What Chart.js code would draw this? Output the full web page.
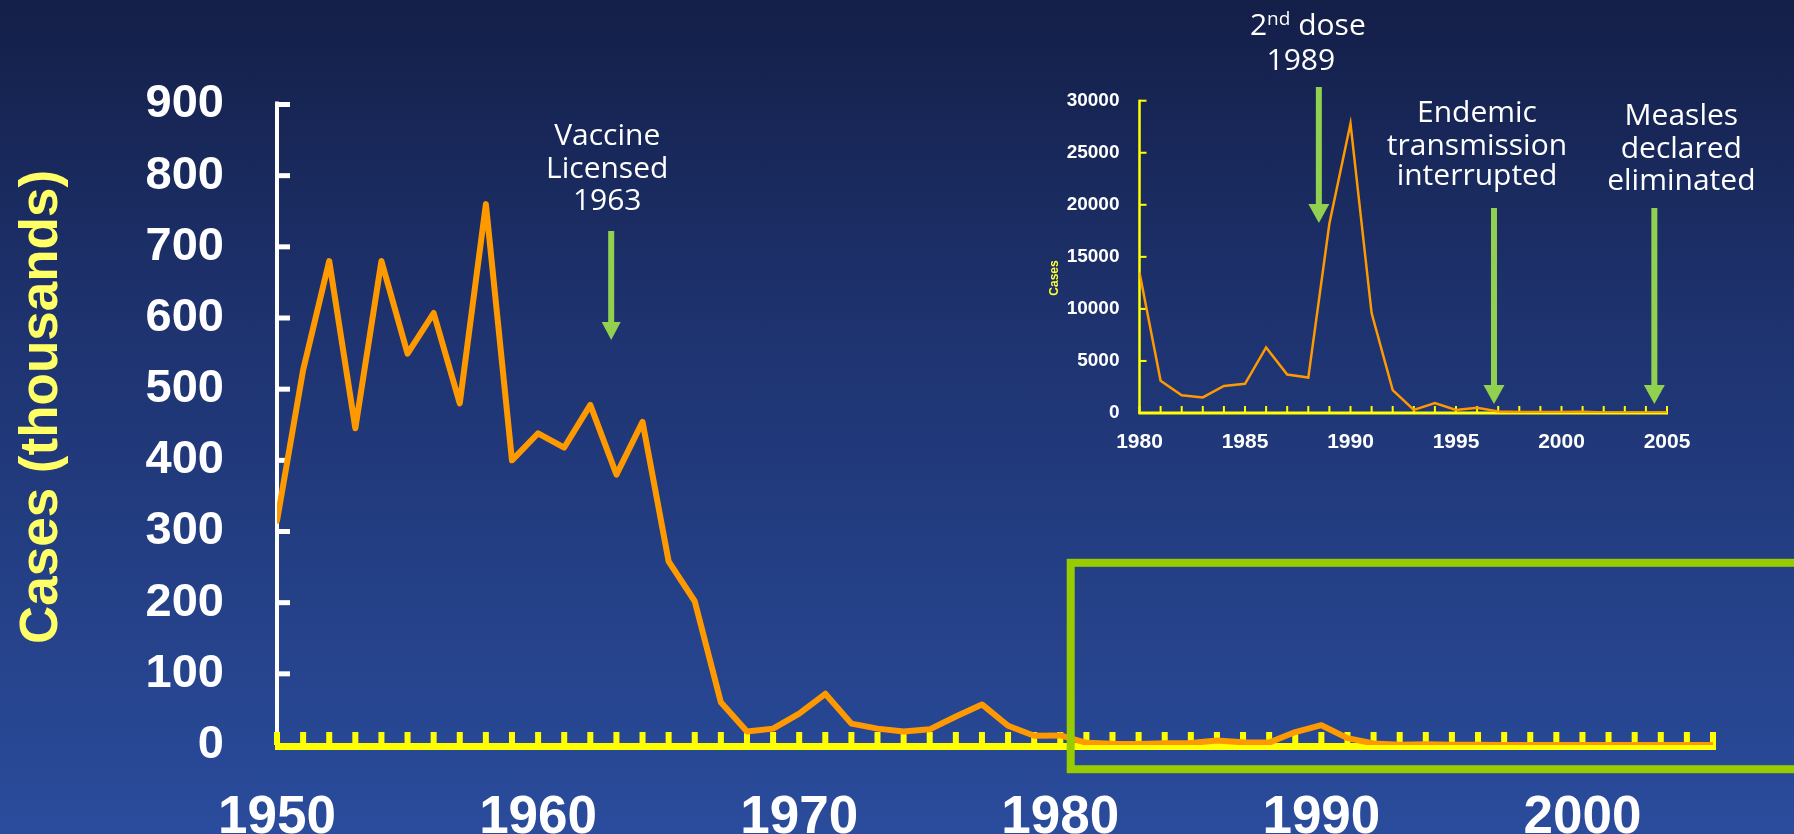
<!DOCTYPE html>
<html>
<head>
<meta charset="utf-8">
<script src="https://cdn.jsdelivr.net/npm/chart.js@4.4.1/dist/chart.umd.min.js"></script>
<style>
  html, body { margin: 0; padding: 0; }
  body {
    width: 1794px; height: 834px; overflow: hidden; position: relative;
    background: linear-gradient(to bottom, #141f48 0%, #1e3370 40%, #2a4c9c 100%);
  }
  canvas { position: absolute; left: 0; top: 0; }
  #inset { pointer-events: none; }
</style>
</head>
<body>
<canvas id="main" width="1794" height="834"></canvas>
<canvas id="inset" width="1794" height="834"></canvas>
<script>
// Measles cases in the US, thousands per year
const years = [];
for (let y = 1950; y <= 2005; y++) years.push(y);

const casesThousands = [
  315, 527, 680, 445, 680, 550, 607, 480, 760, 400,
  438, 418, 478, 380, 454, 258, 202, 60, 19, 23,
  44, 72, 30, 23, 19, 22, 40, 57, 27, 13,
  13.5, 3.1, 1.7, 1.5, 2.6, 2.8, 6.3, 3.7, 3.4, 18.2,
  27.8, 9.6, 2.2, 0.3, 0.96, 0.3, 0.5, 0.14, 0.1, 0.1,
  0.086, 0.116, 0.044, 0.056, 0.037, 0.066
];

const mainTicks = [0, 100, 200, 300, 400, 500, 600, 700, 800, 900];
const mainYearLabels = [1950, 1960, 1970, 1980, 1990, 2000];

const insetStart = 1980;
const insetTicks = [0, 5000, 10000, 15000, 20000, 25000, 30000];
const insetYearLabels = [1980, 1985, 1990, 1995, 2000, 2005];

// events marked with arrows
const vaccineYear = 1962.8;
const secondDoseYear = 1988.5;
const endemicYear = 1996.8;
const eliminatedYear = 2004.4;

const ORANGE = '#ff9900';
const YELLOW = '#ffff00';
const GREEN = '#92d050';
const axisFont = "'Liberation Sans', Arial, sans-serif";
const noteFont = "'Open Sans', sans-serif";

function arrow(ctx, x, top, tip, headW, headH) {
  ctx.save();
  ctx.fillStyle = GREEN;
  ctx.fillRect(x - 3, top, 6, tip - headH - top + 1);
  ctx.beginPath();
  ctx.moveTo(x - headW / 2, tip - headH);
  ctx.lineTo(x + headW / 2, tip - headH);
  ctx.lineTo(x, tip);
  ctx.closePath();
  ctx.fill();
  ctx.restore();
}

function lines(ctx, x, baselines, texts) {
  ctx.save();
  ctx.fillStyle = '#ffffff';
  ctx.font = '30px ' + noteFont;
  ctx.textAlign = 'center';
  ctx.textBaseline = 'alphabetic';
  texts.forEach((t, i) => ctx.fillText(t, x, baselines[i]));
  ctx.restore();
}

const mainDecor = {
  id: 'mainDecor',
  beforeDatasetsDraw(chart) {
    const {ctx, scales: {x, y}} = chart;
    const x0 = x.getPixelForValue(1950);
    const x1 = x.getPixelForValue(2005);
    const y0 = y.getPixelForValue(0);
    ctx.save();
    // white y axis with inward ticks
    ctx.fillStyle = '#ffffff';
    ctx.fillRect(x0 - 2, y.getPixelForValue(900) - 3, 4, y0 - y.getPixelForValue(900) + 3);
    mainTicks.forEach(v => {
      if (v === 0) return;
      ctx.fillRect(x0, y.getPixelForValue(v) - 2.5, 13, 5);
    });
    // yellow x axis with inward ticks every year
    ctx.fillStyle = YELLOW;
    ctx.fillRect(x0 - 2, y0 - 2, x1 - x0 + 5, 7);
    years.forEach(yr => {
      ctx.fillRect(x.getPixelForValue(yr) - 3, y0 - 13, 6, 13);
    });
    ctx.restore();
  },
  afterDatasetsDraw(chart) {
    const {ctx, scales: {x, y}} = chart;
    ctx.save();
    // zoom box around the post-1980 years
    ctx.strokeStyle = '#99cc00';
    ctx.lineWidth = 8;
    const bx = x.getPixelForValue(1980.4);
    const by = y.getPixelForValue(256);
    const bb = y.getPixelForValue(-34);
    ctx.strokeRect(bx, by, chart.width + 20 - bx, bb - by);

    // y title
    ctx.translate(42, 407);
    ctx.rotate(-Math.PI / 2);
    ctx.fillStyle = '#ffff66';
    ctx.font = 'bold 53px ' + axisFont;
    ctx.textAlign = 'center';
    ctx.textBaseline = 'middle';
    ctx.fillText('Cases (thousands)', 0, 0);
    ctx.restore();

    const ax = x.getPixelForValue(vaccineYear);
    arrow(ctx, ax, 231, 340, 19, 18);
    lines(ctx, ax - 4, [145, 178, 210], ['Vaccine', 'Licensed', '1963']);
  }
};

new Chart(document.getElementById('main'), {
  type: 'line',
  data: {
    datasets: [{
      data: years.map((yr, i) => ({x: yr, y: casesThousands[i]})),
      borderColor: ORANGE,
      borderWidth: 6,
      borderJoinStyle: 'round',
      borderCapStyle: 'round',
      pointRadius: 0,
      tension: 0,
      fill: false
    }]
  },
  options: {
    responsive: false,
    animation: false,
    layout: { padding: { left: 0, top: 104.5, right: 81, bottom: 0 } },
    plugins: { legend: { display: false }, tooltip: { enabled: false } },
    scales: {
      x: {
        type: 'linear', min: 1950, max: 2005,
        grid: { display: false }, border: { display: false },
        ticks: {
          stepSize: 1, autoSkip: false, maxRotation: 0,
          callback: v => mainYearLabels.includes(v) ? String(v) : '',
          color: '#ffffff', padding: 34,
          font: { family: axisFont, size: 53, weight: 'bold' }
        },
        afterFit: s => { s.height = 89; }
      },
      y: {
        min: 0, max: 900,
        grid: { display: false }, border: { display: false },
        ticks: {
          stepSize: 100, color: '#ffffff', padding: 45,
          font: { family: axisFont, size: 47, weight: 'bold' }
        },
        afterFit: s => { s.width = 277; }
      }
    }
  },
  plugins: [mainDecor]
});

// inset: 1980-2005 in cases
const insetYears = years.filter(yr => yr >= insetStart);
const insetCases = insetYears.map(yr => casesThousands[yr - 1950] * 1000);

const insetDecor = {
  id: 'insetDecor',
  beforeDatasetsDraw(chart) {
    const {ctx, scales: {x, y}} = chart;
    const x0 = x.getPixelForValue(1980);
    const x1 = x.getPixelForValue(2005);
    const y0 = y.getPixelForValue(0);
    const yt = y.getPixelForValue(30000);
    ctx.save();
    ctx.fillStyle = YELLOW;
    ctx.fillRect(x0 - 1.25, yt - 1, 2.5, y0 - yt + 2);
    insetTicks.forEach(v => {
      if (v === 0) return;
      ctx.fillRect(x0, y.getPixelForValue(v) - 1, 7, 2);
    });
    ctx.fillRect(x0 - 1, y0 - 1.5, x1 - x0 + 2, 3);
    insetYears.forEach(yr => {
      ctx.fillRect(x.getPixelForValue(yr) - 1, y0 - 7, 2, 7);
    });
    ctx.restore();
  },
  afterDatasetsDraw(chart) {
    const {ctx, scales: {x}} = chart;
    ctx.save();
    ctx.translate(1055, 278);
    ctx.rotate(-Math.PI / 2);
    ctx.fillStyle = '#ffff33';
    ctx.font = 'bold 12px ' + axisFont;
    ctx.textAlign = 'center';
    ctx.textBaseline = 'middle';
    ctx.fillText('Cases', 0, 0);
    ctx.restore();

    // 2nd dose
    const a2 = x.getPixelForValue(secondDoseYear);
    arrow(ctx, a2, 87, 223, 21, 19);
    ctx.save();
    ctx.fillStyle = '#ffffff';
    ctx.textBaseline = 'alphabetic';
    ctx.font = '30px ' + noteFont;
    const w2 = ctx.measureText('2').width;
    const wd = ctx.measureText(' dose').width;
    ctx.font = '19px ' + noteFont;
    const wn = ctx.measureText('nd').width;
    let sx = a2 - 11 - (w2 + wn + wd) / 2;
    ctx.textAlign = 'left';
    ctx.font = '30px ' + noteFont;
    ctx.fillText('2', sx, 35);
    ctx.font = '19px ' + noteFont;
    ctx.fillText('nd', sx + w2, 25);
    ctx.font = '30px ' + noteFont;
    ctx.fillText(' dose', sx + w2 + wn, 35);
    ctx.restore();
    lines(ctx, a2 - 18, [70], ['1989']);

    const a3 = x.getPixelForValue(endemicYear);
    arrow(ctx, a3, 208, 404, 21, 19);
    lines(ctx, a3 - 17, [122, 155, 185], ['Endemic', 'transmission', 'interrupted']);

    const a4 = x.getPixelForValue(eliminatedYear);
    arrow(ctx, a4, 208, 404, 21, 19);
    lines(ctx, a4 + 27, [125, 158, 190], ['Measles', 'declared', 'eliminated']);
  }
};

new Chart(document.getElementById('inset'), {
  type: 'line',
  data: {
    datasets: [{
      data: insetYears.map((yr, i) => ({x: yr, y: insetCases[i]})),
      borderColor: ORANGE,
      borderWidth: 2.5,
      pointRadius: 0,
      tension: 0,
      fill: false
    }]
  },
  options: {
    responsive: false,
    animation: false,
    layout: { padding: { left: 0, top: 100.7, right: 127, bottom: 0 } },
    plugins: { legend: { display: false }, tooltip: { enabled: false } },
    scales: {
      x: {
        type: 'linear', min: 1980, max: 2005,
        grid: { display: false }, border: { display: false },
        ticks: {
          stepSize: 1, autoSkip: false, maxRotation: 0,
          callback: v => insetYearLabels.includes(v) ? String(v) : '',
          color: '#ffffff', padding: 9,
          font: { family: axisFont, size: 21, weight: 'bold' }
        },
        afterFit: s => { s.height = 421; }
      },
      y: {
        min: 0, max: 30000,
        grid: { display: false }, border: { display: false },
        ticks: {
          stepSize: 5000, color: '#ffffff', padding: 12,
          callback: v => String(v),
          font: { family: axisFont, size: 19, weight: 'bold' }
        },
        afterFit: s => { s.width = 1139.5; }
      }
    }
  },
  plugins: [insetDecor]
});
</script>
</body>
</html>
